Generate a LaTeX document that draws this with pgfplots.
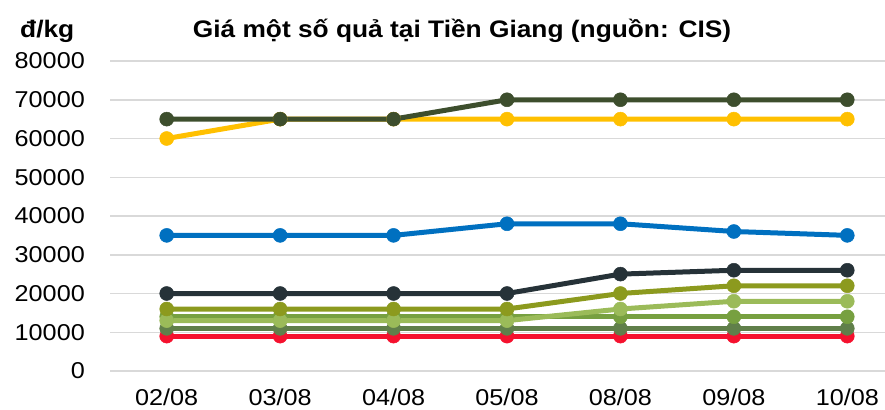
\documentclass[border=0pt]{standalone}
\usepackage{pgfplots}
\pgfplotsset{compat=1.18}
\usepackage{fontspec}
\setmainfont{Liberation Sans}[FakeStretch=1.1]
\definecolor{cTop}{HTML}{3D4E2D}
\definecolor{cGold}{HTML}{FFC000}
\definecolor{cBlue}{HTML}{0070C0}
\definecolor{cChar}{HTML}{263238}
\definecolor{cOlive}{HTML}{8C9A1E}
\definecolor{cLight}{HTML}{9BBB59}
\definecolor{cMed}{HTML}{77A040}
\definecolor{cGrey}{HTML}{607F4A}
\definecolor{cRed}{HTML}{F5112E}
\definecolor{cGrid}{HTML}{D9D9D9}
\begin{document}
\begin{tikzpicture}
\useasboundingbox (0,0) rectangle (885bp,410bp);
\begin{axis}[
  at={(110bp,39bp)}, anchor=south west,
  scale only axis, width=794bp, height=310bp,
  xmin=-0.5, xmax=6.5, ymin=0, ymax=80000,
  axis line style={draw=none},
  ymajorgrids, grid style={color=cGrid, line width=1.5bp},
  ytick={0,10000,...,80000},
  xtick={0,...,6},
  xticklabels={02/08,03/08,04/08,05/08,08/08,09/08,10/08},
  scaled y ticks=false,
  /pgf/number format/1000 sep={},
  /pgf/number format/assume math mode=true,
  major tick length=0pt, tick style={draw=none},
  every tick label/.append style={font=\fontsize{23}{27}\selectfont, inner sep=0pt},
  yticklabel style={anchor=east, xshift=-25bp},
  xticklabel style={anchor=north, yshift=-18bp},
  every axis plot/.append style={line width=5bp, mark=*, mark size=7bp},
  clip=false,
]
\addplot[color=cRed, mark options={fill=cRed, line width=0.5bp}] coordinates {(0,9000)(1,9000)(2,9000)(3,9000)(4,9000)(5,9000)(6,9000)};
\addplot[color=cGrey, mark options={fill=cGrey, line width=0.5bp}] coordinates {(0,11000)(1,11000)(2,11000)(3,11000)(4,11000)(5,11000)(6,11000)};
\addplot[color=cMed, mark options={fill=cMed, line width=0.5bp}] coordinates {(0,14000)(1,14000)(2,14000)(3,14000)(4,14000)(5,14000)(6,14000)};
\addplot[color=cLight, mark options={fill=cLight, line width=0.5bp}] coordinates {(0,13000)(1,13000)(2,13000)(3,13000)(4,16000)(5,18000)(6,18000)};
\addplot[color=cOlive, mark options={fill=cOlive, line width=0.5bp}] coordinates {(0,16000)(1,16000)(2,16000)(3,16000)(4,20000)(5,22000)(6,22000)};
\addplot[color=cChar, mark options={fill=cChar, line width=0.5bp}] coordinates {(0,20000)(1,20000)(2,20000)(3,20000)(4,25000)(5,26000)(6,26000)};
\addplot[color=cBlue, mark options={fill=cBlue, line width=0.5bp}] coordinates {(0,35000)(1,35000)(2,35000)(3,38000)(4,38000)(5,36000)(6,35000)};
\addplot[color=cGold, mark options={fill=cGold, line width=0.5bp}] coordinates {(0,60000)(1,65000)(2,65000)(3,65000)(4,65000)(5,65000)(6,65000)};
\addplot[color=cTop, mark options={fill=cTop, line width=0.5bp}] coordinates {(0,65000)(1,65000)(2,65000)(3,70000)(4,70000)(5,70000)(6,70000)};
\end{axis}
\node[anchor=base west, inner sep=0pt, font=\fontsize{24}{28}\selectfont\bfseries] at (20bp,372bp) {đ/kg};
\node[anchor=base, inner sep=0pt, font=\fontsize{24}{28}\selectfont\bfseries] at (462bp,372bp) {Giá một số quả tại Tiền Giang (nguồn: CIS)};
\end{tikzpicture}
\end{document}
